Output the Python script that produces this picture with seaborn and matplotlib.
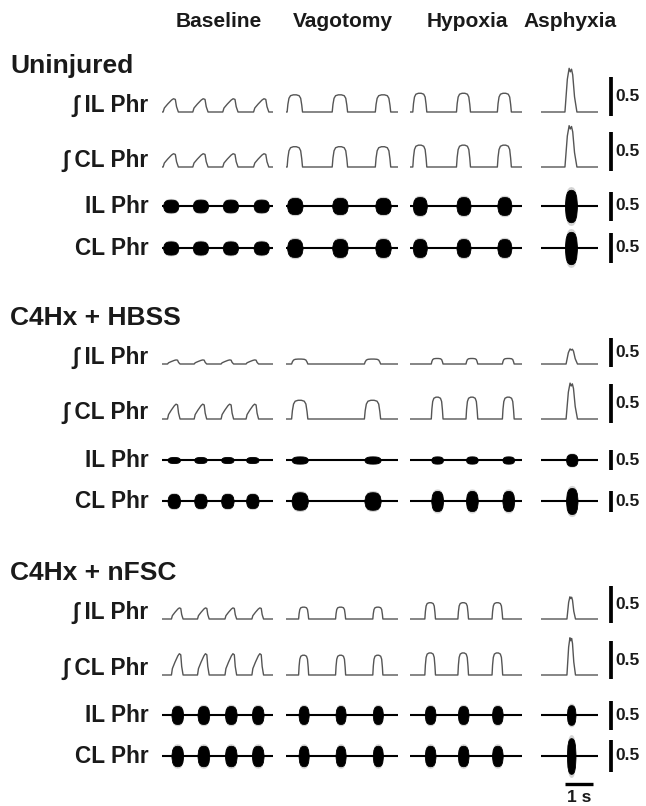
import numpy as np
import pandas as pd
import matplotlib
matplotlib.use("Agg")
import matplotlib.pyplot as plt
import seaborn as sns

# ---------------- data ----------------
GROUPS = ["Uninjured", "C4Hx + HBSS", "C4Hx + nFSC"]
CONDITIONS = ["Baseline", "Vagotomy", "Hypoxia", "Asphyxia"]
ROW_LABELS = ["\u222b IL Phr", "\u222b CL Phr", "IL Phr", "CL Phr"]
SCALE_LABEL = "0.5"
SCALE_VALUE = 0.5
TIME_LABEL = "1 s"
TIME_BAR_S = 1.0
WINDOW_S = [4.0, 4.0, 4.0, 2.0]          # length of each recording window (s)

# burst onsets (s, from start of window) per condition, and burst durations (s)
UNINJ_ONSETS = [[0.04, 1.11, 2.19, 3.30], [0.04, 1.65, 3.19], [0.10, 1.66, 3.12], [0.84]]
UNINJ_DUR = [0.55, 0.55, 0.50, 0.42]
HBSS_ONSETS = [[0.20, 1.16, 2.13, 3.03], [0.20, 2.80], [0.76, 2.00, 3.30], [0.88]]
HBSS_DUR = [0.45, 0.58, 0.42, 0.40]
NFSC_ONSETS = [[0.34, 1.28, 2.27, 3.24], [0.45, 1.77, 3.10], [0.53, 1.71, 2.93], [0.91]]
NFSC_DUR = [0.42, 0.36, 0.38, 0.30]

# integrated burst peak amplitudes (a.u.) per condition
UNINJ_INT_IL = [0.17, 0.22, 0.24, 0.56]
UNINJ_INT_CL = [0.17, 0.26, 0.28, 0.53]
HBSS_INT_IL = [0.07, 0.085, 0.095, 0.26]
HBSS_INT_CL = [0.19, 0.24, 0.28, 0.46]
NFSC_INT_IL = [0.15, 0.16, 0.22, 0.30]
NFSC_INT_CL = [0.28, 0.26, 0.29, 0.49]

# raw burst half-amplitudes (a.u.) per condition
UNINJ_RAW_IL = [0.11, 0.14, 0.155, 0.28]
UNINJ_RAW_CL = [0.11, 0.15, 0.15, 0.27]
HBSS_RAW_IL = [0.075, 0.09, 0.09, 0.15]
HBSS_RAW_CL = [0.17, 0.21, 0.24, 0.31]
NFSC_RAW_IL = [0.155, 0.155, 0.155, 0.17]
NFSC_RAW_CL = [0.16, 0.16, 0.16, 0.28]

GROUP_DATA = [
    dict(onsets=UNINJ_ONSETS, dur=UNINJ_DUR,
         rows=[UNINJ_INT_IL, UNINJ_INT_CL, UNINJ_RAW_IL, UNINJ_RAW_CL]),
    dict(onsets=HBSS_ONSETS, dur=HBSS_DUR,
         rows=[HBSS_INT_IL, HBSS_INT_CL, HBSS_RAW_IL, HBSS_RAW_CL]),
    dict(onsets=NFSC_ONSETS, dur=NFSC_DUR,
         rows=[NFSC_INT_IL, NFSC_INT_CL, NFSC_RAW_IL, NFSC_RAW_CL]),
]

# ---------------- style / layout ----------------
W, H = 646, 806
COL_PX = [(162, 273), (286, 398), (410, 522), (541, 598)]
ROW_BASE_PX = [[112, 167, 206, 248], [364, 419, 460, 501], [619, 675, 715, 756]]
BAR_PX = [[39, 39, 29, 30], [29, 39, 20, 21], [37, 38, 29, 32]]   # pixels per 0.5 a.u.
TITLE_BASE_PX = [73, 325, 580]
INT_COLOR = "#555555"
TEXT_COLOR = "#1a1a1a"

# burst shape templates (fraction of duration, fraction of amplitude)
SHAPES = {
    "ramp": ([0, 0.08, 0.3, 0.55, 0.68, 0.8, 0.88, 1.0],
             [0, 0.3, 0.6, 0.9, 1.0, 0.95, 0.4, 0.0]),
    "plateau": ([0, 0.05, 0.12, 0.22, 0.4, 0.6, 0.78, 0.88, 0.95, 1.0],
                [0, 0.45, 0.8, 0.95, 1.0, 1.0, 0.95, 0.8, 0.4, 0]),
    "peak": ([0, 0.2, 0.35, 0.45, 0.55, 0.65, 0.8, 1.0],
             [0, 0.75, 1.0, 0.92, 0.98, 0.85, 0.35, 0]),
}
COL_SHAPE = ["ramp", "plateau", "plateau", "peak"]
ENV_T = [0, 0.06, 0.17, 0.32, 0.5, 0.68, 0.83, 0.94, 1.0]
ENV_Y = [0.12, 0.6, 0.86, 0.97, 1.0, 0.97, 0.86, 0.6, 0.12]

sns.set_theme(style="white")
plt.rcParams["font.family"] = ["Liberation Sans", "DejaVu Sans"]
plt.rcParams["font.weight"] = "bold"

fig = plt.figure(figsize=(W / 100, H / 100), dpi=100)
fig.patch.set_facecolor("white")


def ftext(x, y, s, **kw):
    fig.text(x / W, 1 - y / H, s, fontweight="bold", color=TEXT_COLOR, **kw)


UP, DOWN = 0.75, 0.45

for g, gd in enumerate(GROUP_DATA):
    ftext(10, TITLE_BASE_PX[g], GROUPS[g], fontsize=19, ha="left", va="baseline")
    for r in range(4):
        base = ROW_BASE_PX[g][r]
        ppu = 2 * BAR_PX[g][r]
        integrated = r < 2
        lab_y = base if integrated else base + 7
        ftext(149, lab_y, ROW_LABELS[r], fontsize=16.3, ha="right", va="baseline")
        for c in range(4):
            x0, x1 = COL_PX[c]
            top = base - UP * ppu
            bot = base + DOWN * ppu
            ax = fig.add_axes([x0 / W, 1 - bot / H, (x1 - x0) / W, (bot - top) / H])
            T = WINDOW_S[c]
            ax.set_xlim(0, T)
            ax.set_ylim(-DOWN, UP)
            ax.axis("off")
            onsets = gd["onsets"][c]
            dur = gd["dur"][c]
            amp = gd["rows"][r][c]
            if integrated:
                st, sy = SHAPES[COL_SHAPE[c]]
                t = [0.0]
                v = [0.0]
                for on in onsets:
                    t += [on + f * dur for f in st]
                    v += [amp * f for f in sy]
                t.append(T)
                v.append(0.0)
                df = pd.DataFrame({"t": t, "v": v})
                sns.lineplot(data=df, x="t", y="v", ax=ax, color=INT_COLOR, lw=1.0,
                             estimator=None, sort=False, legend=False)
            else:
                ax.plot([0, T], [0, 0], color="black", lw=1.5, solid_capstyle="butt")
                for on in onsets:
                    tt = [on + f * dur for f in ENV_T]
                    ee = np.array([amp * f for f in ENV_Y])
                    ax.fill_between(tt, -ee * 1.2, ee * 1.2, color="#555555",
                                    alpha=0.25, lw=0)
                    ax.fill_between(tt, -ee, ee, color="black", lw=0.6,
                                    edgecolor="black")
            ax.set_xlabel("")
            ax.set_ylabel("")
            if c == 3:
                lo = -0.055 if integrated else -0.25
                tr = ax.get_yaxis_transform()
                xf = (611 - x0) / (x1 - x0)
                ax.plot([xf, xf], [lo, lo + SCALE_VALUE], transform=tr, color="black",
                        lw=2.7, solid_capstyle="butt", clip_on=False)
                xt = (615.5 - x0) / (x1 - x0)
                ax.text(xt, lo + SCALE_VALUE / 2, SCALE_LABEL, transform=tr, ha="left",
                        va="center", fontsize=12.5, fontweight="bold", color=TEXT_COLOR)
                if g == 2 and r == 3:
                    yb = -(784 - base) / ppu
                    ax.plot([0.84, 0.84 + TIME_BAR_S], [yb, yb], color="black", lw=2.4,
                            solid_capstyle="butt", clip_on=False)
                    ax.text(0.84 + TIME_BAR_S / 2, -(798 - base) / ppu, TIME_LABEL,
                            ha="center", va="center", fontsize=12.5, fontweight="bold",
                            color=TEXT_COLOR)

for c, name in enumerate(CONDITIONS):
    x0, x1 = COL_PX[c]
    ftext((x0 + x1) / 2 + 1, 27, name, fontsize=15, ha="center", va="baseline")

fig.savefig("out.png", dpi=100, facecolor="white")
